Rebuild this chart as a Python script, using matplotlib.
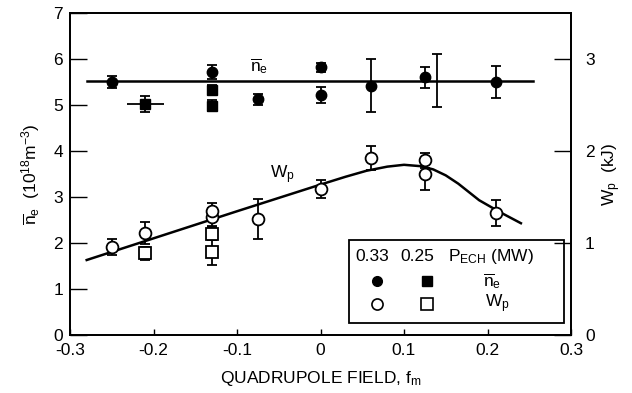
import matplotlib
matplotlib.use("Agg")
import matplotlib.pyplot as plt
from matplotlib.patches import Rectangle

plt.rcParams['font.family'] = ['Liberation Sans', 'DejaVu Sans']
plt.rcParams['mathtext.fontset'] = 'custom'
plt.rcParams['mathtext.rm'] = 'Liberation Sans'
plt.rcParams['mathtext.it'] = 'Liberation Sans'
plt.rcParams['mathtext.default'] = 'regular'

# ---- data ----
# line-averaged density, P_ECH = 0.33 MW (filled circles)
ne33_x = [-0.25, -0.13, -0.075, 0.0, 0.0, 0.06, 0.125, 0.21]
ne33_y = [5.50, 5.72, 5.12, 5.82, 5.22, 5.42, 5.60, 5.50]
ne33_err = [0.14, 0.15, 0.13, 0.10, 0.18, 0.58, 0.23, 0.35]
# extra offset error bar near f_m = 0.13
ne33b_x = [0.14]
ne33b_y = [5.53]
ne33b_err = [0.58]
# density, P_ECH = 0.25 MW (filled squares)
ne25_x = [-0.21, -0.13, -0.13]
ne25_y = [5.02, 5.33, 4.98]
ne25_err = [0.18, 0.10, 0.12]
ne25_xerr = [0.022, 0.0, 0.0]
# stored energy (kJ), P_ECH = 0.33 MW (open circles)
wp33_x = [-0.25, -0.21, -0.13, -0.13, -0.075, 0.0, 0.06, 0.125, 0.125, 0.21]
wp33_y = [0.96, 1.11, 1.28, 1.35, 1.26, 1.585, 1.925, 1.90, 1.75, 1.325]
wp33_err = [0.085, 0.12, 0.10, 0.09, 0.22, 0.10, 0.13, 0.08, 0.17, 0.14]
# stored energy (kJ), P_ECH = 0.25 MW (open squares)
wp25_x = [-0.21, -0.13, -0.13]
wp25_y = [0.89, 1.10, 0.905]
wp25_err = [0.07, 0.07, 0.14]
# guide curves
ne_line_x = [-0.28, 0.255]
ne_line_y = [5.52, 5.52]
wp_curve_x = [-0.28, -0.1, 0.0, 0.03, 0.055, 0.08, 0.10, 0.12, 0.135, 0.15, 0.165, 0.19, 0.215, 0.24]
wp_curve_y = [0.815, 1.345, 1.635, 1.72, 1.785, 1.83, 1.85, 1.835, 1.80, 1.735, 1.645, 1.465, 1.335, 1.215]

xticks = [-0.3, -0.2, -0.1, 0.0, 0.1, 0.2, 0.3]
xticklabels = ['-0.3', '-0.2', '-0.1', '0', '0.1', '0.2', '0.3']
yticks_left = [0, 1, 2, 3, 4, 5, 6, 7]
yticks_right = [0, 1, 2, 3]

# ---- figure ----
fig = plt.figure(figsize=(6.32, 3.93), dpi=100)
ax = fig.add_axes([70/632, 58/393, 501/632, 322/393])
ax2 = ax.twinx()

ax.set_xlim(-0.3, 0.3)
ax.set_ylim(0, 7)
ax2.set_ylim(0, 3.5)

fs = 12.5
ms = 7.5
cap = 3.6
elw = 1.3

ax.plot(ne_line_x, ne_line_y, color='black', lw=1.8, zorder=2)
ax2.plot(wp_curve_x, wp_curve_y, color='black', lw=1.8, zorder=2)

ax.errorbar(ne33_x, ne33_y, yerr=ne33_err, fmt='o', color='black', ms=ms,
            capsize=cap, elinewidth=elw, capthick=elw, zorder=3)
ax.errorbar(ne33b_x, ne33b_y, yerr=ne33b_err, fmt='none', ecolor='black',
            capsize=cap, elinewidth=elw, capthick=elw, zorder=3)
ax.errorbar(ne25_x, ne25_y, yerr=ne25_err, fmt='s', color='black', ms=ms,
            capsize=cap, elinewidth=elw, capthick=elw, zorder=3)
ax.errorbar(ne25_x, ne25_y, xerr=ne25_xerr, fmt='none', ecolor='black',
            capsize=0, elinewidth=elw, zorder=3)

ax2.errorbar(wp33_x, wp33_y, yerr=wp33_err, fmt='o', mfc='white', mec='black',
             mew=1.3, color='black', ms=ms + 1, capsize=cap, elinewidth=elw,
             capthick=elw, zorder=3)
ax2.errorbar(wp25_x, wp25_y, yerr=wp25_err, fmt='s', mfc='white', mec='black',
             mew=1.3, color='black', ms=ms + 0.5, capsize=cap, elinewidth=elw,
             capthick=elw, zorder=3)

# ticks
ax.set_xticks(xticks)
ax.set_xticklabels(xticklabels)
ax.set_yticks(yticks_left)
ax2.set_yticks(yticks_right)
ax.tick_params(axis='x', direction='in', length=4, width=1, labelsize=fs, pad=6, top=False)
ax.tick_params(axis='y', direction='in', length=12, width=1, labelsize=fs, pad=5, right=False)
ax2.tick_params(axis='y', direction='in', length=12, width=1, labelsize=fs, pad=10)
for a in (ax, ax2):
    for s in a.spines.values():
        s.set_linewidth(1.3)

ax.set_xlabel('QUADRUPOLE FIELD, f$_m$', fontsize=fs, labelpad=8)
ax.set_ylabel(r'$\overline{n}_e$  (10$^{18}$m$^{-3}$)', fontsize=fs, labelpad=8)
ax2.set_ylabel('W$_p$  (kJ)', fontsize=fs, labelpad=4)

# curve labels
ax.text(-0.074, 5.85, r'$\overline{n}_e$', fontsize=fs, ha='center', va='center')
ax.text(-0.046, 3.48, 'W$_p$', fontsize=fs, ha='center', va='center')

# legend box (axes fraction)
T = ax.transAxes
ax.add_patch(Rectangle((0.557, 0.037), 0.429, 0.258, transform=T, fill=False,
                       ec='black', lw=1.3, zorder=5))
ax.text(0.603, 0.245, '0.33', transform=T, fontsize=fs, ha='center', va='center')
ax.text(0.693, 0.245, '0.25', transform=T, fontsize=fs, ha='center', va='center')
ax.text(0.754, 0.245, 'P$_{ECH}$ (MW)', transform=T, fontsize=fs, ha='left', va='center')
ax.plot([0.613], [0.168], 'o', color='black', ms=7, transform=T, zorder=6)
ax.plot([0.713], [0.168], 's', color='black', ms=7, transform=T, zorder=6)
ax.text(0.824, 0.168, r'$\overline{n}_e$', transform=T, fontsize=fs, ha='left', va='center')
ax.plot([0.613], [0.096], 'o', mfc='white', mec='black', mew=1.2, ms=8, transform=T, zorder=6)
ax.plot([0.713], [0.096], 's', mfc='white', mec='black', mew=1.2, ms=8, transform=T, zorder=6)
ax.text(0.828, 0.096, 'W$_p$', transform=T, fontsize=fs, ha='left', va='center')

fig.savefig('out.png', dpi=100)
